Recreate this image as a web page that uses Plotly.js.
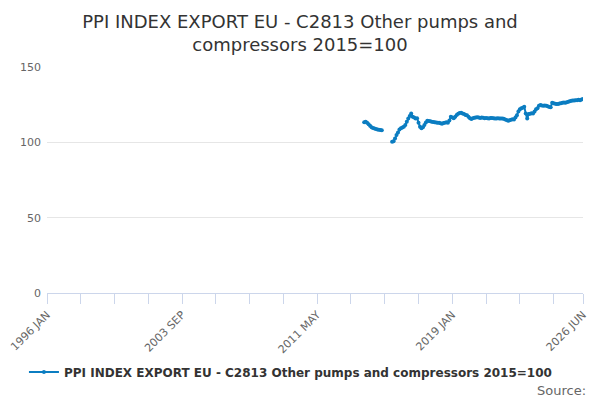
<!DOCTYPE html>
<html>
<head>
<meta charset="utf-8">
<script src="https://cdn.plot.ly/plotly-3.0.1.min.js"></script>
<style>
  html, body { margin: 0; padding: 0; background: #fff; }
  #chart { width: 600px; height: 400px; }
</style>
</head>
<body>
<div id="chart"></div>
<script>
var monthNames = ['JAN', 'FEB', 'MAR', 'APR', 'MAY', 'JUN', 'JUL', 'AUG', 'SEP', 'OCT', 'NOV', 'DEC'];

// monthly categories 1996 JAN .. 2026 JUN
var months = [];
for (var y = 1996; y <= 2026; y++) {
  for (var m = 0; m < 12; m++) {
    if (y === 2026 && m > 5) break;
    months.push(y + ' ' + monthNames[m]);
  }
}

var seriesName = 'PPI INDEX EXPORT EU - C2813 Other pumps and compressors 2015=100';
var firstMonth = '2014 JAN';

// values from 2014 JAN onwards, null = no data
var values = [
  // 2014
  113.3, 113.6, 113.0, 112.0, 111.0, 110.0, 109.5, 109.2, 108.8, 108.5, 108.4, 108.2,
  // 2015
  108.0, null, null, null, null, null, null, 100.4, 100.8, 102.5, 104.9, 106.5,
  // 2016
  108.5, 109.3, 109.8, 110.4, 111.5, 113.7, 115.9, 117.5, 119.2, 117.0, 116.5, 115.9,
  // 2017
  116.0, 113.0, 110.4, 109.3, 110.0, 111.5, 113.2, 114.4, 114.2, 114.0, 113.7, 113.5,
  // 2018
  113.3, 113.1, 113.0, 113.0, 112.6, 112.4, 112.8, 113.0, 113.3, 113.0, 114.5, 117.0,
  // 2019
  116.5, 116.0, 117.0, 118.1, 119.0, 119.5, 119.7, 119.2, 118.8, 118.1, 118.0, 117.0,
  // 2020
  116.0, 115.5, 116.0, 116.3, 116.5, 116.6, 116.4, 116.2, 116.5, 116.3, 116.0, 116.2,
  // 2021
  116.0, 115.9, 116.1, 116.2, 116.0, 115.9, 115.8, 116.0, 115.9, 115.8, 115.9, 115.6,
  // 2022
  115.2, 114.8, 114.4, 114.6, 115.0, 115.3, 115.2, 116.5, 118.0, 120.5, 122.0, 122.6,
  // 2023
  123.0, 123.7, 119.2, 115.9, 118.8, 119.0, 119.3, 119.2, 120.5, 122.0, 122.6, 124.2,
  // 2024
  124.8, 124.5, 124.3, 124.4, 124.2, 124.0, 123.5, 123.3, 126.3, 126.0, 125.6, 125.4,
  // 2025
  125.5, 125.8, 126.0, 126.2, 126.4, 126.3, 126.6, 127.0, 127.2, 127.6, 127.7, 127.8,
  // 2026
  128.0, 128.0, 128.2, 128.0, 128.4, 128.8, 129.0
];

var labelMonths = ['1996 JAN', '2003 SEP', '2011 MAY', '2019 JAN', '2026 JUN'];
var yTicks = [0, 50, 100, 150];

// pad the series so it lines up with the categories
var start = months.indexOf(firstMonth);
var yData = months.map(function (mo, i) {
  var k = i - start;
  return (k >= 0 && k < values.length) ? values[k] : null;
});

// a tick every 23 months, labels only on some
var tickVals = [], tickText = [];
months.forEach(function (mo, i) {
  if ((i % 23 === 0 && i <= 345) || i === months.length - 1) {
    tickVals.push(mo);
    tickText.push(labelMonths.indexOf(mo) >= 0 ? mo : '');
  }
});

var trace = {
  x: months,
  y: yData,
  type: 'scatter',
  mode: 'lines+markers',
  name: seriesName,
  connectgaps: false,
  line: { color: '#0b7dc1', width: 2 },
  marker: { color: '#0b7dc1', size: 4 },
  hoverinfo: 'none'
};

var layout = {
  width: 600,
  height: 400,
  margin: { l: 47, r: 17, t: 67, b: 107 },
  paper_bgcolor: '#ffffff',
  plot_bgcolor: '#ffffff',
  font: { family: 'DejaVu Sans, sans-serif', color: '#666666', size: 11 },
  title: {
    text: 'PPI INDEX EXPORT EU - C2813 Other pumps and<br>compressors 2015=100',
    font: { family: 'DejaVu Sans, sans-serif', size: 18, color: '#333333' },
    x: 0.5,
    xanchor: 'center',
    y: 0.93,
    yanchor: 'middle'
  },
  xaxis: {
    type: 'category',
    range: [0, months.length - 1],
    tickmode: 'array',
    tickvals: tickVals,
    ticktext: tickText,
    tickangle: -45,
    ticks: 'outside',
    ticklen: 10,
    tickcolor: '#ccd6eb',
    showline: true,
    linecolor: '#ccd6eb',
    linewidth: 1,
    showgrid: false,
    zeroline: false,
    tickfont: { size: 11, color: '#666666' }
  },
  yaxis: {
    range: [0, 150],
    tickmode: 'array',
    tickvals: yTicks,
    showgrid: true,
    gridcolor: '#e6e6e6',
    zeroline: false,
    showline: false,
    ticks: '',
    ticklabelstandoff: 5,
    tickfont: { size: 11, color: '#666666' }
  },
  showlegend: true,
  legend: {
    orientation: 'h',
    x: -0.043,
    xanchor: 'left',
    y: -0.35,
    yanchor: 'middle',
    font: { family: 'DejaVu Sans, sans-serif', size: 12, color: '#333333', weight: 'bold' }
  },
  annotations: [{
    text: 'Source:',
    xref: 'paper',
    yref: 'paper',
    x: 1.01,
    xanchor: 'right',
    y: -0.43,
    yanchor: 'middle',
    showarrow: false,
    font: { size: 13, color: '#666666' }
  }]
};

Plotly.newPlot('chart', [trace], layout, { displayModeBar: false, staticPlot: true });
</script>
</body>
</html>
